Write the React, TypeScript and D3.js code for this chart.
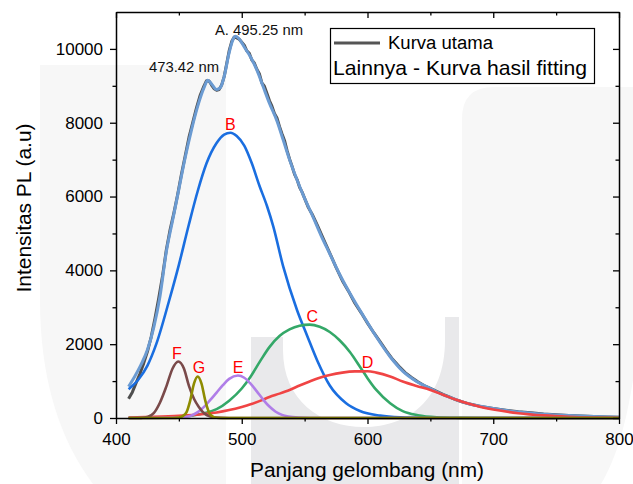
import React, { useEffect, useRef } from 'react';
import * as d3 from 'd3';

// ---- axis ticks ----
const xTicks = [400, 500, 600, 700, 800];
const xMinorTicks = [450, 550, 650, 750];
const yTicks = [0, 2000, 4000, 6000, 8000, 10000];
const yMinorTicks = [1000, 3000, 5000, 7000, 9000];

// ---- measured PL spectrum (wavelength nm, intensity a.u.) ----
const mainCurve: [number, number][] = [
  [410, 520], [413, 700], [416, 950], [419, 1200], [422, 1480], [425, 1800], [428, 2200], [431, 2700],
  [434, 3250], [437, 3850], [440, 4550], [443, 5100], [446, 5550], [449, 6050], [452, 6600], [455, 7100],
  [458, 7600], [461, 8000], [464, 8400], [467, 8750], [470, 9000], [472, 9140], [474, 9130], [476, 9020],
  [478, 8920], [480, 8880], [482, 8900], [484, 9020], [486, 9250], [488, 9600], [490, 9950], [492, 10200],
  [494, 10320], [496, 10300], [498, 10260], [500, 10180], [502, 10100], [504, 9950], [506, 9880], [508, 9700],
  [510, 9620], [512, 9450], [514, 9330], [516, 9080], [518, 8990], [520, 8800], [522, 8600], [524, 8450],
  [526, 8250], [528, 8130], [530, 7900], [532, 7700], [534, 7520], [536, 7250], [538, 7020], [540, 6820],
  [542, 6600], [544, 6460], [546, 6250], [548, 6120], [550, 5950], [553, 5700], [556, 5520], [560, 5230],
  [565, 4850], [570, 4470], [575, 4080], [580, 3720], [585, 3430], [590, 3110], [595, 2850], [600, 2570],
  [605, 2310], [610, 2070], [615, 1820], [620, 1590], [625, 1400], [630, 1230], [635, 1100], [640, 980],
  [645, 880], [650, 800], [655, 720], [660, 640], [665, 570], [670, 500], [675, 440], [680, 390],
  [685, 350], [690, 315], [695, 285], [700, 255], [710, 210], [720, 170], [730, 140], [740, 110],
  [750, 90], [760, 70], [770, 55], [780, 40], [790, 30], [800, 22],
];

// ---- cumulative fitted curve ----
const fitCurve: [number, number][] = [
  [410, 850], [415, 1130], [420, 1450], [425, 1850], [430, 2450], [435, 3300], [440, 4500], [445, 5350],
  [450, 6200], [455, 7050], [460, 7800], [465, 8450], [470, 8950], [473, 9150], [476, 9050], [480, 8900],
  [483, 8950], [486, 9250], [490, 9900], [493, 10250], [495, 10340], [498, 10270], [502, 10050], [507, 9780],
  [512, 9430], [517, 8980], [522, 8530], [528, 8050], [533, 7530], [538, 7000], [544, 6450], [550, 5950],
  [556, 5500], [563, 4950], [570, 4450], [577, 3950], [586, 3380], [597, 2750], [607, 2200], [618, 1660],
  [628, 1270], [639, 990], [650, 800], [660, 630], [671, 490], [681, 380], [692, 305], [705, 230],
  [720, 165], [740, 105], [760, 65], [780, 38], [800, 20],
];

// ---- fitted component peaks ----
const peakB: [number, number][] = [
  [410, 780], [418, 1050], [425, 1420], [432, 2000], [442, 3150], [450, 4150], [458, 5250], [465, 6150],
  [472, 6900], [480, 7450], [486, 7680], [491, 7730], [496, 7640], [502, 7380], [508, 6900], [514, 6300],
  [520, 5750], [525, 5200], [533, 4100], [544, 2920], [552, 2230], [560, 1560], [570, 880], [583, 400],
  [594, 190], [610, 65], [626, 18], [645, 3], [665, 0], [800, 0],
];
const peakC: [number, number][] = [
  [410, 0], [440, 5], [460, 60], [470, 130], [480, 240], [490, 470], [500, 800], [507, 1120],
  [515, 1560], [522, 1920], [530, 2220], [538, 2400], [546, 2500], [554, 2530], [562, 2470], [570, 2330],
  [578, 2100], [586, 1790], [594, 1390], [600, 1080], [607, 760], [618, 400], [628, 185], [640, 75],
  [655, 20], [670, 5], [690, 0], [800, 0],
];
const peakD: [number, number][] = [
  [410, 10], [430, 30], [450, 60], [470, 110], [480, 150], [490, 215], [500, 300], [507, 370],
  [515, 470], [522, 570], [530, 660], [538, 760], [546, 880], [554, 990], [562, 1090], [570, 1165],
  [580, 1230], [590, 1262], [600, 1265], [607, 1230], [618, 1125], [628, 990], [639, 870], [650, 760],
  [660, 630], [670, 500], [680, 390], [690, 300], [700, 230], [720, 130], [740, 70], [760, 35],
  [780, 15], [800, 7],
];
const peakE: [number, number][] = [
  [410, 0], [450, 8], [455, 30], [460, 70], [465, 160], [470, 300], [475, 490], [480, 690],
  [485, 890], [490, 1060], [497, 1150], [502, 1090], [507, 930], [512, 720], [517, 500], [522, 310],
  [527, 170], [532, 85], [537, 40], [545, 10], [555, 0], [800, 0],
];
const peakF: [number, number][] = [
  [410, 0], [420, 3], [425, 25], [430, 130], [435, 420], [440, 850], [445, 1340], [449.5, 1530],
  [454, 1340], [458, 870], [462, 520], [466, 290], [470, 130], [475, 40], [480, 10], [490, 0], [800, 0],
];
const peakG: [number, number][] = [
  [410, 0], [445, 0], [450, 10], [453, 50], [456, 150], [459, 470], [462, 930], [465, 1125],
  [468, 930], [471, 470], [474, 150], [477, 40], [480, 8], [486, 0], [800, 0],
];

const peakLabels = [
  { name: 'B', at: [491, 7730] },
  { name: 'C', at: [556, 2530] },
  { name: 'D', at: [600, 1265] },
  { name: 'E', at: [497, 1150] },
  { name: 'F', at: [448.5, 1530] },
  { name: 'G', at: [466, 1125] },
];

const W = 633;
const H = 484;
const M = { left: 116, right: 619, top: 12, bottom: 418 };
const FONT = "'Liberation Sans', Arial, Helvetica, sans-serif";

export default function App() {
  const axesRef = useRef<SVGGElement>(null);
  const x = d3.scaleLinear().domain([400, 800]).range([M.left, M.right]);
  const y = d3.scaleLinear().domain([0, 11000]).range([M.bottom, M.top]);

  const lineSmooth = d3
    .line<[number, number]>()
    .x((d) => x(d[0]))
    .y((d) => y(d[1]))
    .curve(d3.curveMonotoneX);
  const lineRaw = d3
    .line<[number, number]>()
    .x((d) => x(d[0]))
    .y((d) => y(d[1]))
    .curve(d3.curveLinear);

  useEffect(() => {
    const g = d3.select(axesRef.current);
    g.selectAll('*').remove();
    const style = (sel: any, keepDomain: boolean) => {
      if (keepDomain) sel.select('.domain').attr('stroke', '#000').attr('stroke-width', 1.5);
      else sel.select('.domain').remove();
      sel.selectAll('.tick line').attr('stroke', '#000').attr('stroke-width', 1.3);
      sel.selectAll('text').attr('font-size', 17).attr('font-family', FONT).attr('fill', '#000');
    };
    // bottom
    g.append('g')
      .attr('transform', `translate(0,${M.bottom})`)
      .call(d3.axisBottom(x).tickValues(xTicks).tickSize(6).tickSizeOuter(0).tickPadding(9).tickFormat(d3.format('d')))
      .call((s: any) => style(s, true));
    g.append('g')
      .attr('transform', `translate(0,${M.bottom})`)
      .call(d3.axisBottom(x).tickValues(xMinorTicks).tickSize(3.5).tickFormat(() => ''))
      .call((s: any) => style(s, false));
    // top
    g.append('g')
      .attr('transform', `translate(0,${M.top})`)
      .call(d3.axisTop(x).tickValues(xTicks).tickSize(-6).tickSizeOuter(0).tickFormat(() => ''))
      .call((s: any) => style(s, true));
    g.append('g')
      .attr('transform', `translate(0,${M.top})`)
      .call(d3.axisTop(x).tickValues(xMinorTicks).tickSize(-3.5).tickFormat(() => ''))
      .call((s: any) => style(s, false));
    // left
    g.append('g')
      .attr('transform', `translate(${M.left},0)`)
      .call(d3.axisLeft(y).tickValues(yTicks).tickSize(6).tickSizeOuter(0).tickPadding(7).tickFormat(d3.format('d')))
      .call((s: any) => style(s, true));
    g.append('g')
      .attr('transform', `translate(${M.left},0)`)
      .call(d3.axisLeft(y).tickValues(yMinorTicks).tickSize(3.5).tickFormat(() => ''))
      .call((s: any) => style(s, false));
    // right
    g.append('g')
      .attr('transform', `translate(${M.right},0)`)
      .call(d3.axisRight(y).tickValues(yTicks).tickSize(-6).tickSizeOuter(0).tickFormat(() => ''))
      .call((s: any) => style(s, true));
    g.append('g')
      .attr('transform', `translate(${M.right},0)`)
      .call(d3.axisRight(y).tickValues(yMinorTicks).tickSize(-3.5).tickFormat(() => ''))
      .call((s: any) => style(s, false));
  }, []);

  const components: { data: [number, number][]; color: string }[] = [
    { data: peakB, color: '#1a6ee0' },
    { data: peakC, color: '#34a868' },
    { data: peakD, color: '#f04444' },
    { data: peakE, color: '#b07ee8' },
    { data: peakF, color: '#7a4a4a' },
    { data: peakG, color: '#8e8c00' },
  ];

  return (
    <svg
      width={W}
      height={H}
      style={{ position: 'absolute', left: 0, top: 0, background: '#fff' }}
      fontFamily={FONT}
    >
      {/* watermark */}
      <g>
        <path d="M40,65 L208,65 Q226,65 226,83 L226,484 L93,484 C60,440 40,380 40,300 Z" fill="#f7f7f7" />
        <path d="M494,87 L633,87 L633,380 C625,430 615,460 601,484 L462,484 L462,119 Q462,87 494,87 Z" fill="#f7f7f7" />
        <path
          d="M251,337 L283,337 L283,350 C283,400 320,427 364,427 C408,427 445,400 445,340 L445,317 L459,317 L459,484 L251,484 Z"
          fill="#e9e9eb"
        />
      </g>

      {/* curves */}
      <path d={lineRaw(mainCurve) || ''} fill="none" stroke="#4f4f4f" strokeWidth={3} strokeLinejoin="round" />
      <path d={lineSmooth(fitCurve) || ''} fill="none" stroke="#6b9bd2" strokeWidth={3} strokeLinejoin="round" />
      {components.map((c, i) => (
        <path key={i} d={lineSmooth(c.data) || ''} fill="none" stroke={c.color} strokeWidth={2.6} />
      ))}

      {/* axes */}
      <g ref={axesRef} />

      {/* peak labels */}
      {peakLabels.map((p) => (
        <text
          key={p.name}
          x={x(p.at[0])}
          y={y(p.at[1]) - 3}
          textAnchor="middle"
          fontSize={16}
          fill="#ff0000"
        >
          {p.name}
        </text>
      ))}

      {/* peak annotations */}
      <text x={149} y={72} fontSize={14.5} fill="#111" textLength={70} lengthAdjust="spacingAndGlyphs">473.42 nm</text>
      <text x={215} y={35} fontSize={14.5} fill="#111" textLength={88} lengthAdjust="spacingAndGlyphs">A. 495.25 nm</text>

      {/* legend */}
      <rect x={330.5} y={28.5} width={264} height={55} fill="#fff" stroke="#000" strokeWidth={1.2} />
      <line x1={334} x2={380} y1={43} y2={43} stroke="#555" strokeWidth={3} />
      <text x={388} y={49} fontSize={18} fill="#000" textLength={105} lengthAdjust="spacingAndGlyphs">Kurva utama</text>
      <text x={333} y={75} fontSize={21} fill="#000" textLength={254} lengthAdjust="spacingAndGlyphs">Lainnya - Kurva hasil fitting</text>

      {/* axis titles */}
      <text x={367} y={477} textAnchor="middle" fontSize={20} fill="#000" textLength={234} lengthAdjust="spacingAndGlyphs">
        Panjang gelombang (nm)
      </text>
      <text
        transform={`translate(31,208) rotate(-90)`}
        textAnchor="middle"
        fontSize={20}
        fill="#000"
        textLength={169}
        lengthAdjust="spacingAndGlyphs"
      >
        Intensitas PL (a.u)
      </text>
    </svg>
  );
}
